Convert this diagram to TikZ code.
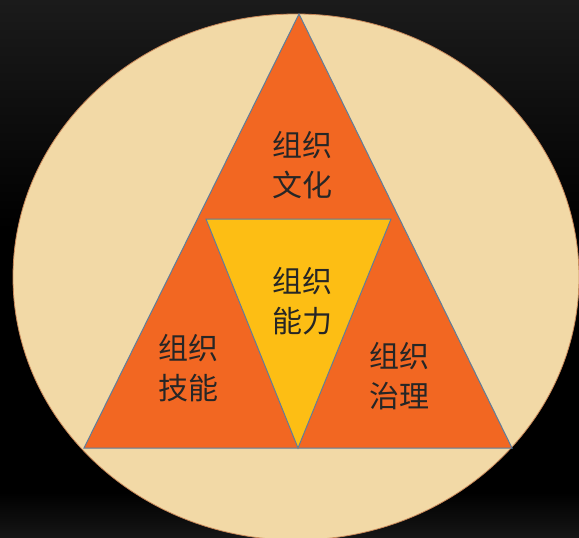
\documentclass[tikz,border=0pt]{standalone}
\usepackage{fontspec}
\newfontfamily\cjk{Noto Sans CJK SC}
\definecolor{bgtop}{HTML}{1B1B1B}
\definecolor{bgbot}{HTML}{161616}
\definecolor{beige}{HTML}{F2D9A6}
\definecolor{rim}{HTML}{C9895A}
\definecolor{orangefill}{HTML}{F26722}
\definecolor{yellowfill}{HTML}{FDBE14}
\definecolor{edge}{HTML}{5E7E9C}
\definecolor{txt}{HTML}{262626}
\begin{document}
\begin{tikzpicture}[x=1pt,y=-1pt,
  lbl/.style={font=\cjk\fontsize{30}{40}\selectfont, text=txt, align=center, inner sep=0pt},
  tri/.style={draw=edge, line width=1pt, line join=miter}]
\useasboundingbox (0,0) rectangle (579,538);
\fill[black] (0,0) rectangle (579,538);
\shade[top color=bgtop, bottom color=black] (0,0) rectangle (579,230);
\shade[top color=black, bottom color=bgbot] (0,492) rectangle (579,538);
\filldraw[fill=beige, draw=rim, line width=0.8pt] (296,277) ellipse [x radius=283, y radius=263];
\coordinate (A) at (299,14);
\coordinate (B) at (84,448);
\coordinate (C) at (512,448);
\coordinate (P) at (206,219);
\coordinate (Q) at (391,219);
\coordinate (R) at (298,448);
\filldraw[tri, fill=orangefill] (A) -- (B) -- (C) -- cycle;
\filldraw[tri, fill=yellowfill] (P) -- (Q) -- (R) -- cycle;
\node[lbl] (culture) at (302,165) {组织\\文化};
\node[lbl] (ability) at (302,301) {组织\\能力};
\node[lbl] (skill) at (188,368) {组织\\技能};
\node[lbl] (govern) at (399,376) {组织\\治理};
\end{tikzpicture}
\end{document}
